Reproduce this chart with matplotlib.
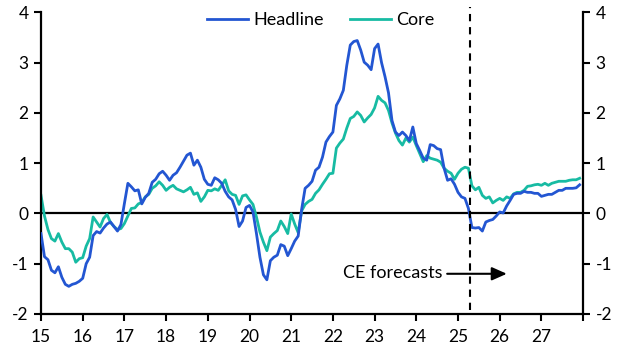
import numpy as np
import matplotlib
matplotlib.use('Agg')
import matplotlib.pyplot as plt

plt.rcParams['font.family'] = ['Lato', 'DejaVu Sans']

# Monthly y/y inflation, Jan 2015 - Dec 2027 (forecasts from Apr 2025)
headline = [
    -0.40, -0.86, -0.92, -1.13, -1.18, -1.06, -1.27, -1.41, -1.45, -1.41, -1.39, -1.35,  # 2015
    -1.29, -1.00, -0.87, -0.44, -0.36, -0.39, -0.29, -0.21, -0.17, -0.26, -0.35, -0.22,  # 2016
    0.20, 0.60, 0.53, 0.45, 0.47, 0.19, 0.32, 0.40, 0.62, 0.68, 0.79, 0.84,  # 2017
    0.76, 0.66, 0.76, 0.81, 0.92, 1.04, 1.16, 1.20, 0.96, 1.06, 0.92, 0.68,  # 2018
    0.58, 0.56, 0.71, 0.67, 0.60, 0.44, 0.33, 0.27, 0.08, -0.26, -0.15, 0.12,  # 2019
    0.16, 0.03, -0.40, -0.87, -1.22, -1.32, -0.94, -0.87, -0.83, -0.62, -0.65, -0.84,  # 2020
    -0.70, -0.55, -0.45, 0.08, 0.50, 0.56, 0.64, 0.86, 0.92, 1.12, 1.42, 1.53,  # 2021
    1.62, 2.15, 2.28, 2.45, 2.95, 3.35, 3.42, 3.44, 3.25, 3.01, 2.95, 2.86,  # 2022
    3.28, 3.37, 3.00, 2.72, 2.40, 1.85, 1.62, 1.55, 1.62, 1.55, 1.45, 1.72,  # 2023
    1.39, 1.25, 1.10, 1.06, 1.37, 1.35, 1.29, 1.27, 0.90, 0.66, 0.69, 0.58,  # 2024
    0.42, 0.33, 0.30, 0.10, -0.28, -0.29, -0.28, -0.35, -0.17, -0.14, -0.12, -0.05,  # 2025
    0.03, 0.01, 0.15, 0.26, 0.38, 0.40, 0.40, 0.44, 0.42, 0.42, 0.40, 0.40,  # 2026
    0.34, 0.36, 0.38, 0.38, 0.42, 0.46, 0.46, 0.50, 0.50, 0.50, 0.51, 0.57,  # 2027
]
core = [
    0.36, -0.05, -0.32, -0.50, -0.55, -0.40, -0.57, -0.70, -0.70, -0.77, -0.97, -0.90,  # 2015
    -0.88, -0.65, -0.50, -0.07, -0.17, -0.27, -0.10, -0.02, -0.18, -0.26, -0.32, -0.30,  # 2016
    -0.20, -0.05, 0.10, 0.11, 0.19, 0.22, 0.33, 0.38, 0.50, 0.55, 0.63, 0.56,  # 2017
    0.46, 0.52, 0.56, 0.49, 0.46, 0.43, 0.47, 0.52, 0.38, 0.41, 0.24, 0.33,  # 2018
    0.46, 0.45, 0.49, 0.46, 0.56, 0.67, 0.45, 0.38, 0.36, 0.18, 0.35, 0.37,  # 2019
    0.27, 0.18, -0.07, -0.37, -0.57, -0.74, -0.47, -0.40, -0.34, -0.15, -0.26, -0.40,  # 2020
    -0.01, -0.21, -0.38, 0.05, 0.18, 0.24, 0.28, 0.40, 0.47, 0.58, 0.68, 0.79,  # 2021
    0.80, 1.30, 1.40, 1.48, 1.70, 1.89, 1.93, 2.02, 1.95, 1.82, 1.90, 1.97,  # 2022
    2.10, 2.33, 2.25, 2.20, 2.05, 1.80, 1.60, 1.45, 1.36, 1.50, 1.42, 1.52,  # 2023
    1.35, 1.19, 1.03, 1.15, 1.10, 1.08, 1.06, 1.02, 0.90, 0.84, 0.80, 0.68,  # 2024
    0.80, 0.88, 0.92, 0.90, 0.55, 0.47, 0.52, 0.36, 0.30, 0.33, 0.21, 0.26,  # 2025
    0.30, 0.26, 0.33, 0.30, 0.39, 0.42, 0.42, 0.46, 0.54, 0.55, 0.57, 0.58,  # 2026
    0.56, 0.60, 0.56, 0.60, 0.62, 0.64, 0.64, 0.64, 0.66, 0.67, 0.67, 0.70,  # 2027
]
year_ticks = list(range(2015, 2029))
year_labels = ['15', '16', '17', '18', '19', '20', '21', '22', '23', '24', '25', '26', '27', '']
y_ticks = [-2, -1, 0, 1, 2, 3, 4]
forecast_start = 2025.29

dates = 2015 + np.arange(len(headline)) / 12

blue = '#2356d2'
teal = '#17bba3'

fig = plt.figure(figsize=(6.27, 3.54), dpi=100)
ax = fig.add_axes([0.0654, 0.113, 0.8646, 0.852])

ax.plot(dates, headline, color=blue, lw=2.0, label='Headline', zorder=3)
ax.plot(dates, core, color=teal, lw=2.0, label='Core', zorder=2)

ax.axhline(0, color='black', lw=1.6, zorder=1)
ax.plot([forecast_start, forecast_start], [-1.92, 4.1], color='black', lw=1.5,
        ls=(0, (3.5, 2.8)), clip_on=False, zorder=4)

# forecast arrow
ax.annotate('', xy=(2026.17, -1.2), xytext=(2024.74, -1.2),
            arrowprops=dict(arrowstyle='-|>,head_length=0.9,head_width=0.4',
                            color='black', lw=1.5, shrinkA=0, shrinkB=0))
ax.text(2024.64, -1.18, 'CE forecasts', ha='right', va='center', fontsize=13)

ax.set_xlim(2015, 2028)
ax.set_ylim(-2, 4)
ax.set_xticks(year_ticks)
ax.set_xticklabels(year_labels, fontsize=12.5)
ax.set_yticks(y_ticks)
ax.set_yticklabels([str(v) for v in y_ticks], fontsize=12.5)
ax.tick_params(axis='x', length=5, width=1.5, pad=6)
ax.tick_params(axis='y', length=5, width=1.5, pad=4, left=True, right=True,
               labelleft=True, labelright=True)

for side in ['left', 'right', 'bottom']:
    ax.spines[side].set_linewidth(1.6)
ax.spines['top'].set_visible(False)

ax.legend(loc='upper left', bbox_to_anchor=(0.306, 1.0), ncol=2, frameon=False,
          fontsize=13, handlelength=2.3, columnspacing=1.4, handletextpad=0.3,
          borderpad=0, borderaxespad=0)

fig.savefig('out.png', dpi=100)
